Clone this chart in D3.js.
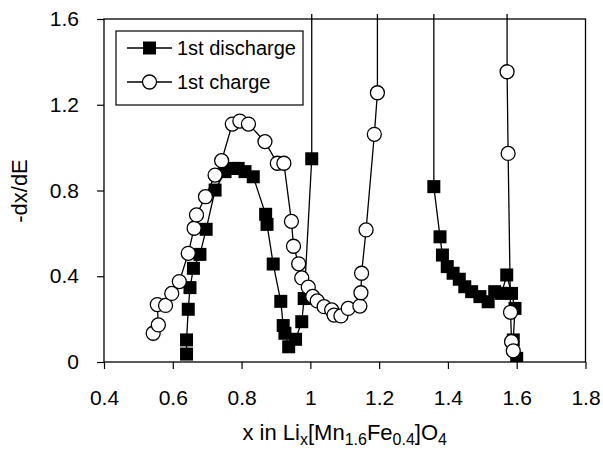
<!DOCTYPE html>
<html>
<head>
<meta charset="utf-8">
<script src="https://cdn.jsdelivr.net/npm/d3@7"></script>
<style>
    body { margin: 0; background: #fff; }
    text { font-family: "Liberation Sans", Arial, sans-serif; fill: #000; }
</style>
</head>
<body>
<div id="chart"></div>
<script>
// Values (points above 1.6 run off the top of the plot)
const dischargeX = [0.640, 0.640, 0.645, 0.650, 0.660, 0.679, 0.697, 0.723, 0.752, 0.776, 0.790, 0.810,
    0.834, 0.870, 0.874, 0.892, 0.914, 0.921, 0.926, 0.937, 0.957, 0.975, 0.982, 1.004, 1.004,
    1.359, 1.359, 1.377, 1.384, 1.398, 1.415, 1.433, 1.449, 1.469, 1.493, 1.517, 1.536, 1.556,
    1.571, 1.585, 1.595, 1.590, 1.600];
const dischargeY = [0.037, 0.103, 0.246, 0.347, 0.437, 0.502, 0.619, 0.802, 0.888, 0.903, 0.903, 0.888,
    0.864, 0.689, 0.642, 0.457, 0.283, 0.170, 0.134, 0.071, 0.106, 0.188, 0.296, 0.948, 3.0,
    3.0, 0.818, 0.584, 0.499, 0.445, 0.414, 0.386, 0.351, 0.328, 0.305, 0.281, 0.328, 0.320,
    0.406, 0.320, 0.250, 0.103, 0.017];

const chargeX = [0.543, 0.558, 0.555, 0.579, 0.597, 0.619, 0.645, 0.662, 0.669, 0.695, 0.723, 0.742,
    0.773, 0.795, 0.820, 0.868, 0.904, 0.923, 0.945, 0.951, 0.966, 0.975, 0.994, 1.007, 1.020,
    1.040, 1.062, 1.069, 1.089, 1.110, 1.144, 1.147, 1.149, 1.162, 1.186, 1.195, 1.195,
    1.572, 1.572, 1.575, 1.582, 1.585, 1.590];
const chargeY = [0.134, 0.173, 0.268, 0.264, 0.320, 0.375, 0.507, 0.624, 0.686, 0.771, 0.872, 0.939,
    1.110, 1.124, 1.110, 1.028, 0.927, 0.927, 0.656, 0.540, 0.458, 0.392, 0.349, 0.306, 0.285,
    0.258, 0.243, 0.219, 0.215, 0.250, 0.261, 0.323, 0.414, 0.616, 1.062, 1.256, 3.0,
    3.0, 1.354, 0.973, 0.232, 0.095, 0.052];

const xTicks = [0.4, 0.6, 0.8, 1.0, 1.2, 1.4, 1.6, 1.8];
const yTicks = [0, 0.4, 0.8, 1.2, 1.6];
const legendLabels = ["1st discharge", "1st charge"];

const width = 603;
const height = 454;
const margin = { top: 19, right: 17.5, bottom: 92, left: 104 };

const svg = d3.select("#chart").append("svg")
    .attr("width", width)
    .attr("height", height);

const xScale = d3.scaleLinear()
    .domain([0.4, 1.8])
    .range([margin.left, width - margin.right]);

const yScale = d3.scaleLinear()
    .domain([0, 1.6])
    .range([height - margin.bottom, margin.top]);

const fmt = d3.format("~g");

// Axes
const xAxis = svg.append("g")
    .attr("transform", `translate(0, ${height - margin.bottom})`)
    .call(d3.axisBottom(xScale).tickValues(xTicks).tickFormat(fmt).tickSize(7).tickPadding(21));

const yAxis = svg.append("g")
    .attr("transform", `translate(${margin.left}, 0)`)
    .call(d3.axisLeft(yScale).tickValues(yTicks).tickFormat(fmt).tickSize(7).tickPadding(18));

[xAxis, yAxis].forEach(ax => {
    ax.select(".domain").remove();
    ax.selectAll(".tick line").attr("stroke", "#000").attr("stroke-width", 1.2);
    ax.selectAll(".tick text")
        .style("font-family", '"Liberation Sans", Arial, sans-serif')
        .style("font-size", "21px")
        .attr("fill", "#000");
});

// Clip: the lines run a few pixels past the top of the frame, as in the original
svg.append("clipPath").attr("id", "plot-clip")
    .append("rect")
    .attr("x", margin.left)
    .attr("y", margin.top - 5)
    .attr("width", width - margin.left - margin.right)
    .attr("height", height - margin.top - margin.bottom + 5);

const plot = svg.append("g").attr("clip-path", "url(#plot-clip)");

const line = d3.line()
    .x(d => xScale(d[0]))
    .y(d => yScale(d[1]));

const discharge = dischargeX.map((x, i) => [x, dischargeY[i]]);
const charge = chargeX.map((x, i) => [x, chargeY[i]]);

[discharge, charge].forEach(series => {
    plot.append("path")
        .datum(series)
        .attr("fill", "none")
        .attr("stroke", "#000")
        .attr("stroke-width", 1.3)
        .attr("d", line);
});

const sq = 13;
plot.selectAll(".sq")
    .data(discharge.filter(d => d[1] <= 1.6))
    .enter().append("rect")
    .attr("class", "sq")
    .attr("x", d => xScale(d[0]) - sq / 2)
    .attr("y", d => yScale(d[1]) - sq / 2)
    .attr("width", sq)
    .attr("height", sq)
    .attr("fill", "#000");

plot.selectAll(".circ")
    .data(charge.filter(d => d[1] <= 1.6))
    .enter().append("circle")
    .attr("class", "circ")
    .attr("cx", d => xScale(d[0]))
    .attr("cy", d => yScale(d[1]))
    .attr("r", 7)
    .attr("fill", "#fff")
    .attr("stroke", "#000")
    .attr("stroke-width", 1.3);

// Plot frame
svg.append("rect")
    .attr("x", margin.left)
    .attr("y", margin.top)
    .attr("width", width - margin.left - margin.right)
    .attr("height", height - margin.top - margin.bottom)
    .attr("fill", "none")
    .attr("stroke", "#000")
    .attr("stroke-width", 1.3);

// Legend
const legend = svg.append("g").attr("transform", "translate(116, 31)");
legend.append("rect")
    .attr("width", 187)
    .attr("height", 74)
    .attr("fill", "#fff")
    .attr("stroke", "#000")
    .attr("stroke-width", 1.2);

legendLabels.forEach((label, i) => {
    const g = legend.append("g").attr("transform", `translate(0, ${17 + i * 34})`);
    g.append("line").attr("x1", 11).attr("x2", 56).attr("stroke", "#000").attr("stroke-width", 1.3);
    if (i === 0) {
        g.append("rect").attr("x", 33.5 - sq / 2).attr("y", -sq / 2)
            .attr("width", sq).attr("height", sq).attr("fill", "#000");
    } else {
        g.append("circle").attr("cx", 33.5).attr("r", 7)
            .attr("fill", "#fff").attr("stroke", "#000").attr("stroke-width", 1.3);
    }
    g.append("text").attr("x", 61).attr("y", 7).style("font-size", "20px").text(label);
});

// Axis titles
const xTitle = svg.append("text")
    .attr("x", (margin.left + width - margin.right) / 2)
    .attr("y", 440)
    .attr("text-anchor", "middle")
    .style("font-size", "22px");
xTitle.append("tspan").text("x in Li");
xTitle.append("tspan").attr("dy", 5).style("font-size", "16px").text("x");
xTitle.append("tspan").attr("dy", -5).text("[Mn");
xTitle.append("tspan").attr("dy", 5).style("font-size", "16px").text("1.6");
xTitle.append("tspan").attr("dy", -5).text("Fe");
xTitle.append("tspan").attr("dy", 5).style("font-size", "16px").text("0.4");
xTitle.append("tspan").attr("dy", -5).text("]O");
xTitle.append("tspan").attr("dy", 5).style("font-size", "16px").text("4");

svg.append("text")
    .attr("transform", "translate(27, 191) rotate(-90)")
    .attr("text-anchor", "middle")
    .style("font-size", "22px")
    .text("-dx/dE");
</script>
</body>
</html>
